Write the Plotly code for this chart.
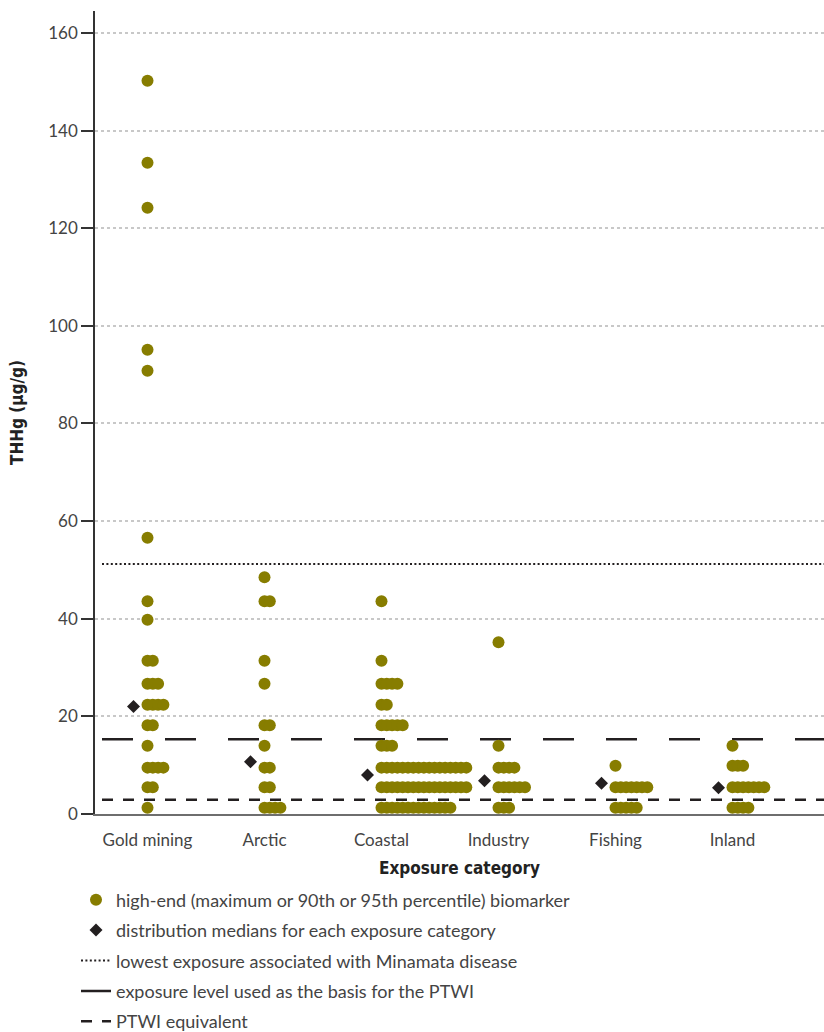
import plotly.graph_objects as go

# ---------------- data ----------------
categories = ["Gold mining", "Arctic", "Coastal", "Industry", "Fishing", "Inland"]

gold_mining = [150.2, 133.4, 124.2, 95.1, 90.8, 56.6, 43.6, 39.8,
               31.4, 31.4, 26.7, 26.7, 26.7, 22.4, 22.4, 22.4, 22.4,
               18.2, 18.2, 14.0, 9.5, 9.5, 9.5, 9.5, 5.5, 5.5, 1.3]
arctic = [48.5, 43.6, 43.6, 31.4, 26.7, 18.2, 18.2, 14.0,
          9.5, 9.5, 5.5, 5.5, 1.3, 1.3, 1.3, 1.3]
coastal = ([43.6, 31.4] + [26.7] * 4 + [22.4] * 2 + [18.2] * 5 + [14.0] * 3
           + [9.5] * 17 + [5.5] * 17 + [1.3] * 14)
industry = [35.2, 14.0] + [9.5] * 4 + [5.5] * 6 + [1.3] * 3
fishing = [9.9] + [5.5] * 7 + [1.3] * 5
inland = [14.0] + [9.9] * 3 + [5.5] * 7 + [1.3] * 4

medians = [22.0, 10.7, 8.0, 6.8, 6.3, 5.4]

minamata_level = 51.2      # lowest exposure associated with Minamata disease
ptwi_basis_level = 15.3    # exposure level used as the basis for the PTWI
ptwi_equiv_level = 2.9     # PTWI equivalent

y_ticks = [0, 20, 40, 60, 80, 100, 120, 140, 160]

# ---------------- styling / layout constants ----------------
W, H = 824, 1032
ML, MR, MT, MB = 95, 0, 11, 218
PX_PER_CAT = 117.0
FIRST_CAT_PX = 147.5
DOT_STEP = 5.3 / PX_PER_CAT          # horizontal offset between stacked dots
MEDIAN_SHIFT = -14 / PX_PER_CAT
X_MIN = (ML - FIRST_CAT_PX) / PX_PER_CAT
X_MAX = (W - MR - FIRST_CAT_PX) / PX_PER_CAT
LINE_START = (102 - FIRST_CAT_PX) / PX_PER_CAT

OLIVE = "#877d00"
DARK = "#231f20"
TEXT = "#444444"
FONT = "Lato, 'Open Sans', sans-serif"
TITLE_FONT = "'DejaVu Sans Condensed', 'Liberation Sans Narrow', sans-serif"

series = [gold_mining, arctic, coastal, industry, fishing, inland]

# stack dots horizontally within each value level
dot_x, dot_y = [], []
for i, vals in enumerate(series):
    seen = {}
    for v in vals:
        k = seen.get(v, 0)
        seen[v] = k + 1
        dot_x.append(i + k * DOT_STEP)
        dot_y.append(v)

fig = go.Figure()

fig.add_trace(go.Scatter(
    x=[LINE_START, X_MAX], y=[minamata_level, minamata_level], mode="lines",
    line=dict(color=DARK, width=2, dash="2px,2.4px"),
    name="lowest exposure associated with Minamata disease",
    legendgroup="c", legendrank=3, hoverinfo="skip"))

fig.add_trace(go.Scatter(
    x=[LINE_START, X_MAX], y=[ptwi_basis_level, ptwi_basis_level], mode="lines",
    line=dict(color=DARK, width=2.5, dash="31px,32px"),
    name="exposure level used as the basis for the PTWI",
    legendgroup="d", legendrank=4, hoverinfo="skip"))

fig.add_trace(go.Scatter(
    x=[LINE_START, X_MAX], y=[ptwi_equiv_level, ptwi_equiv_level], mode="lines",
    line=dict(color=DARK, width=2.5, dash="11px,10px"),
    name="PTWI equivalent",
    legendgroup="e", legendrank=5, hoverinfo="skip"))

fig.add_trace(go.Scatter(
    x=dot_x, y=dot_y, mode="markers",
    marker=dict(size=12, color=OLIVE, line=dict(width=0)),
    name="high-end (maximum or 90th or 95th percentile) biomarker",
    legendgroup="a", legendrank=1, hoverinfo="skip"))

fig.add_trace(go.Scatter(
    x=[i + MEDIAN_SHIFT for i in range(len(categories))], y=medians,
    mode="markers",
    marker=dict(size=10, symbol="diamond", color=DARK, line=dict(width=0)),
    name="distribution medians for each exposure category",
    legendgroup="b", legendrank=2, hoverinfo="skip"))

plot_h = H - MT - MB
plot_w = W - ML - MR

fig.update_layout(
    width=W, height=H,
    margin=dict(l=ML, r=MR, t=MT, b=MB, pad=0, autoexpand=False),
    paper_bgcolor="white", plot_bgcolor="white",
    font=dict(family=FONT, size=16, color=TEXT),
    showlegend=True,
    legend=dict(
        x=(76 - ML) / plot_w, xanchor="left",
        y=-(881.5 - (H - MB)) / plot_h, yanchor="top",
        traceorder="grouped", tracegroupgap=4,
        font=dict(family=FONT, size=18, color=TEXT),
        bgcolor="rgba(0,0,0,0)", borderwidth=0,
        itemclick=False),
    xaxis=dict(
        range=[X_MIN, X_MAX], tickvals=list(range(len(categories))),
        ticktext=categories, ticks="", showgrid=False, zeroline=False,
        showline=True, linecolor="#6e6e6e", linewidth=2,
        ticklabelstandoff=10,
        tickfont=dict(family=FONT, size=17, color=TEXT),
        title=dict(text="<b>Exposure category</b>", standoff=13,
                   font=dict(family=TITLE_FONT, size=17, color="#222"))),
    yaxis=dict(
        range=[0, 164.5], tickvals=y_ticks, ticks="outside", ticklen=12,
        tickwidth=1.5, tickcolor="#333", showline=True, linecolor="#333",
        linewidth=1.5, zeroline=False, showgrid=True, gridcolor="#c8c8c8",
        gridwidth=1.5, griddash="dot",
        tickfont=dict(family=FONT, size=17, color=TEXT),
        title=dict(text="<b>THHg (µg/g)</b>", standoff=20,
                   font=dict(family=TITLE_FONT, size=17, color="#222"))),
)

fig.write_html(
    "out.html",
    config={"displayModeBar": False},
    post_script="document.body.style.margin='0';document.body.style.overflow='hidden';",
)
